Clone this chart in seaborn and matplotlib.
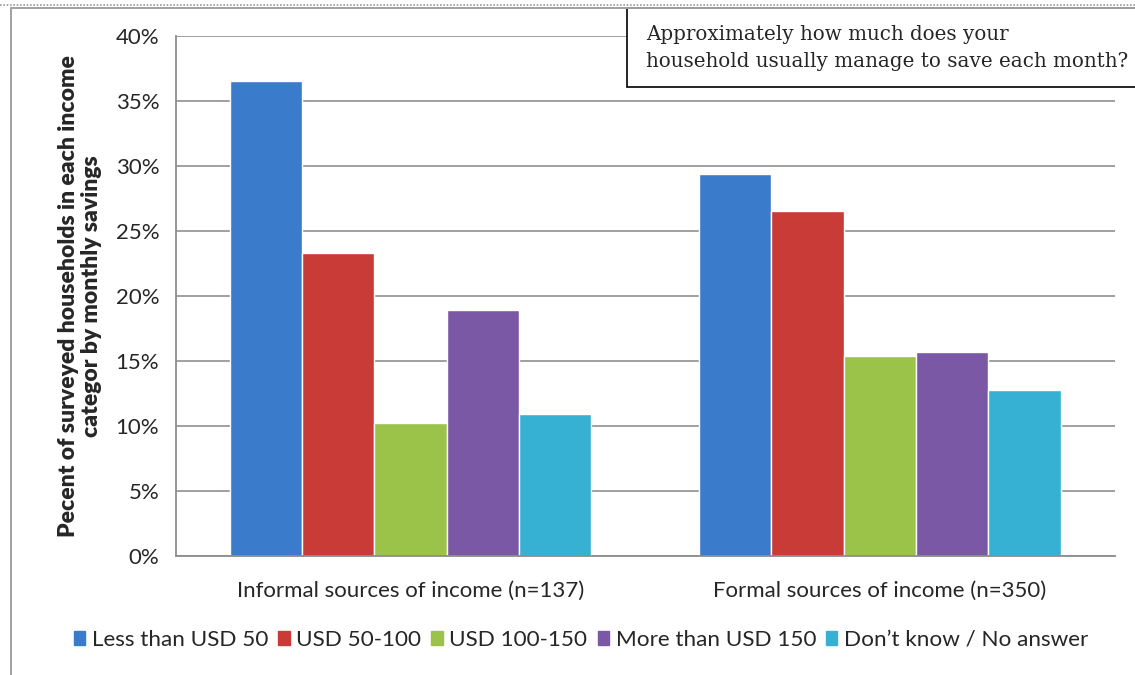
import matplotlib.pyplot as plt
import matplotlib.patches as mpatches
import matplotlib.ticker as mticker
import pandas as pd
import seaborn as sns

# data
groups = ["Informal sources of income (n=137)", "Formal sources of income (n=350)"]
savings = ["Less than USD 50", "USD 50-100", "USD 100-150",
           "More than USD 150", "Don\u2019t know / No answer"]
informal = [36.5, 23.3, 10.2, 18.9, 10.9]
formal = [29.4, 26.5, 15.4, 15.7, 12.8]
colors = ["#3A7BCB", "#C83B37", "#9BC34A", "#7B58A6", "#37B1D3"]

df = pd.DataFrame({
    "group": [groups[0]] * len(savings) + [groups[1]] * len(savings),
    "saving": savings * 2,
    "pct": informal + formal,
})

sns.set_style("white")
plt.rcParams["font.family"] = ["Lato", "DejaVu Sans"]

fig = plt.figure(figsize=(11.35, 6.75), dpi=100)
ax = fig.add_axes([0.155, 0.1763, 0.827, 0.7704])

sns.barplot(data=df, x="group", y="pct", hue="saving", order=groups,
            hue_order=savings, palette=colors, width=0.77, saturation=1,
            ax=ax, legend=False)

ax.set_ylim(0, 40)
ax.set_xlim(-0.5, 1.5)
ax.yaxis.set_major_locator(mticker.MultipleLocator(5))
ax.yaxis.set_major_formatter(mticker.FuncFormatter(lambda v, p: f"{v:.0f}%"))
ax.grid(axis="y", color="#A0A0A0", linewidth=1.4)
ax.set_axisbelow(True)

for s in ["top", "right"]:
    ax.spines[s].set_visible(False)
for s in ["left", "bottom"]:
    ax.spines[s].set_color("#8C8C8C")
    ax.spines[s].set_linewidth(1.3)

ax.set_xticks([-0.5, 0.5, 1.5], minor=True)
ax.tick_params(axis="x", which="major", length=0, labelsize=16, pad=18)
ax.tick_params(axis="x", which="minor", length=6, color="#8C8C8C", width=1.3)
ax.tick_params(axis="y", length=6, color="#8C8C8C", width=1.3, labelsize=16, pad=6)

ax.set_xlabel("")
ax.set_ylabel("Pecent of surveyed households in each income\ncategor by monthly savings",
              fontsize=16.5, fontweight="heavy", labelpad=10, linespacing=1.1)

# legend with small square markers
handles = [mpatches.Patch(color=c, label=l) for c, l in zip(colors, savings)]
fig.legend(handles=handles, loc="center", bbox_to_anchor=(0.512, 0.052), ncol=5,
           frameon=False, fontsize=16.2, handlelength=0.5, handleheight=0.62,
           handletextpad=0.3, columnspacing=0.45)

# outer chart frame
fig.add_artist(plt.Line2D([0, 1], [1 - 5 / 675] * 2, transform=fig.transFigure,
                          color="#9A9A9A", linewidth=1.2, linestyle=(0, (1, 1))))
fig.add_artist(plt.Line2D([11 / 1135] * 2, [0, 1 - 8 / 675], transform=fig.transFigure,
                          color="#A0A0A0", linewidth=1.4))
fig.add_artist(plt.Line2D([11 / 1135, 1], [1 - 8 / 675] * 2, transform=fig.transFigure,
                          color="#A0A0A0", linewidth=1.4))

# question box
fig.add_artist(mpatches.Rectangle((627 / 1135, 1 - 87 / 675), 0.5, 79 / 675,
                                  transform=fig.transFigure, facecolor="white",
                                  edgecolor="black", linewidth=1.2))
fig.text(646 / 1135, 1 - 48 / 675,
         "Approximately how much does your\nhousehold usually manage to save each month?",
         family=["DejaVu Serif"], fontsize=14.3, va="center", ha="left", linespacing=1.5)

fig.savefig("out.png", dpi=100)
